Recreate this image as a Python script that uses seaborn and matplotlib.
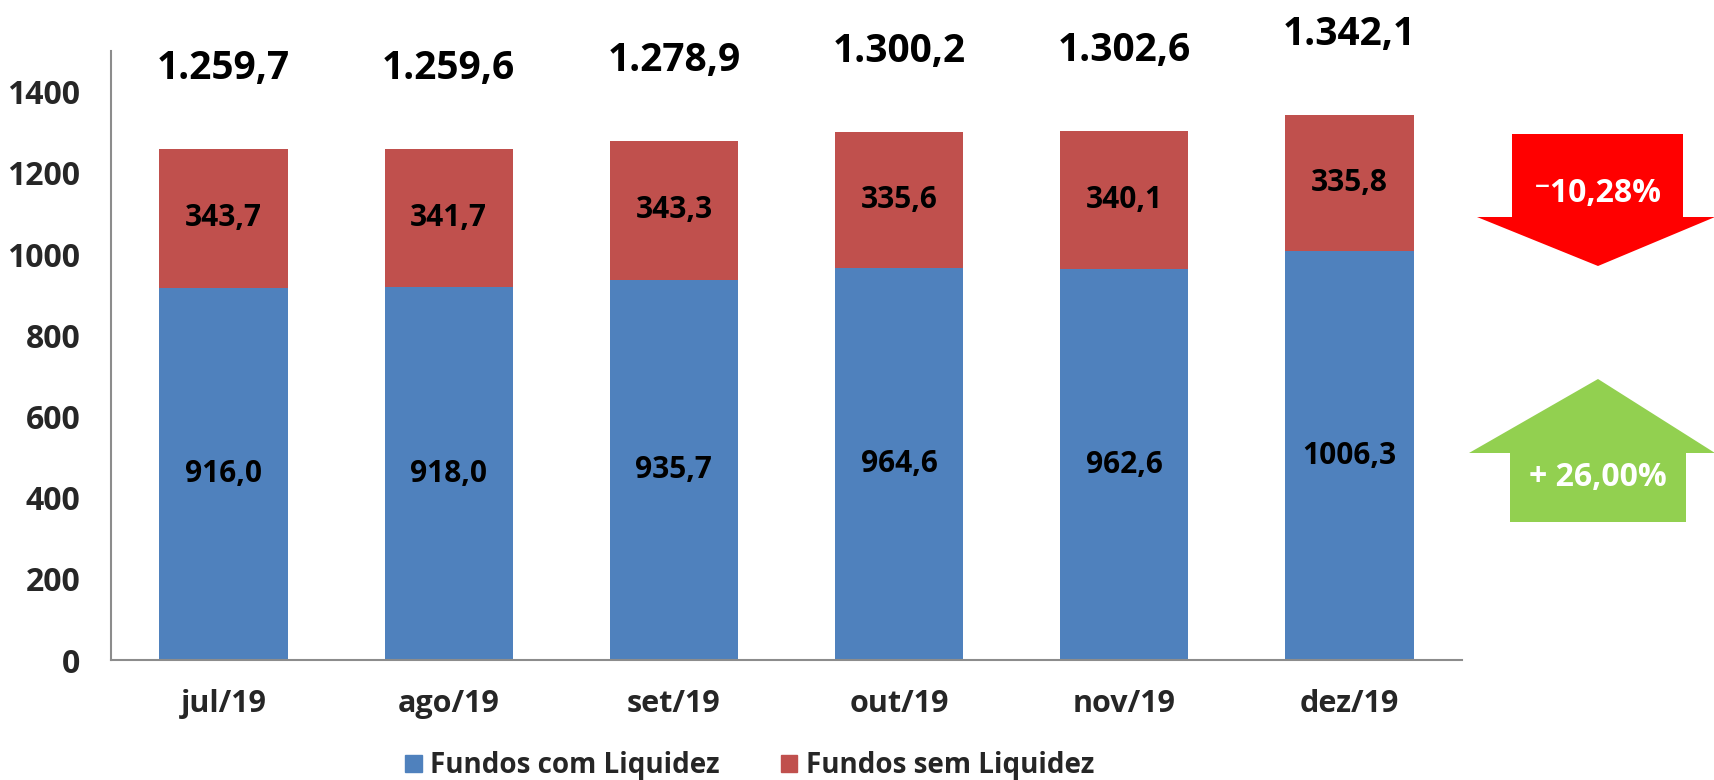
import matplotlib
matplotlib.use("Agg")
import matplotlib.pyplot as plt
import matplotlib.patches as mpatches
import seaborn as sns
import pandas as pd

meses = ["jul/19", "ago/19", "set/19", "out/19", "nov/19", "dez/19"]
com_liquidez = [916.0, 918.0, 935.7, 964.6, 962.6, 1006.3]
sem_liquidez = [343.7, 341.7, 343.3, 335.6, 340.1, 335.8]
totais = ["1.259,7", "1.259,6", "1.278,9", "1.300,2", "1.302,6", "1.342,1"]
var_sem = "\u207b10,28%"
var_com = "+ 26,00%"

AZUL = "#4F81BD"
VERMELHO = "#C0504D"

sns.set_theme(style="white")
plt.rcParams["font.family"] = ["Open Sans", "DejaVu Sans"]
plt.rcParams["font.weight"] = "bold"

df = pd.DataFrame({"mes": meses, "com": com_liquidez, "sem": sem_liquidez})
df["total"] = df["com"] + df["sem"]

fig = plt.figure(figsize=(17.15, 7.8), dpi=100)
ax = fig.add_axes([0.0647, 0.1538, 0.7878, 0.7808])

# stacked: total (red) behind, blue in front
sns.barplot(data=df, x="mes", y="total", color=VERMELHO, width=0.57,
            saturation=1, linewidth=0, ax=ax)
sns.barplot(data=df, x="mes", y="com", color=AZUL, width=0.57,
            saturation=1, linewidth=0, ax=ax)

ax.set_ylim(0, 1500)
ax.set_yticks(range(0, 1401, 200))
ax.set_xlim(-0.5, len(meses) - 0.5)
ax.set_xlabel("")
ax.set_ylabel("")
ax.tick_params(axis="y", length=0, pad=22, labelsize=23)
ax.tick_params(axis="x", length=0, pad=21, labelsize=22)
for lbl in ax.get_xticklabels() + ax.get_yticklabels():
    lbl.set_fontweight("bold")
for s in ["top", "right"]:
    ax.spines[s].set_visible(False)
for s in ["left", "bottom"]:
    ax.spines[s].set_color("#8c8c8c")
    ax.spines[s].set_linewidth(1.5)

def fmt(v):
    return f"{v:.1f}".replace(".", ",")

for i, row in df.iterrows():
    ax.text(i, row["com"] / 2, fmt(row["com"]), ha="center", va="center",
            fontsize=21.5, fontweight="bold", color="black")
    ax.text(i, row["com"] + row["sem"] / 2, fmt(row["sem"]), ha="center",
            va="center", fontsize=21.5, fontweight="bold", color="black")
    ax.text(i, row["total"] + 198, totais[i], ha="center",
            va="center", fontsize=28, fontweight="bold", color="black",
            clip_on=False)

# arrows on the right (figure pixel coords -> fraction)
W, H = 1715, 780
def fp(pts):
    return [(x / W, 1 - y / H) for x, y in pts]

seta_baixo = fp([(1512, 134), (1683, 134), (1683, 217), (1715, 217),
                 (1598, 266), (1477, 217), (1512, 217)])
seta_cima = fp([(1598, 379), (1715, 453), (1686, 453), (1686, 522),
                (1510, 522), (1510, 453), (1469, 453)])
fig.patches.append(mpatches.Polygon(seta_baixo, closed=True, facecolor="#FF0000",
                                    edgecolor="none", transform=fig.transFigure))
fig.patches.append(mpatches.Polygon(seta_cima, closed=True, facecolor="#92D050",
                                    edgecolor="none", transform=fig.transFigure))
fig.text(1598 / W, 1 - 193 / H, var_sem, ha="center", va="center",
         fontsize=23, fontweight="bold", color="white")
fig.text(1598 / W, 1 - 477 / H, var_com, ha="center", va="center",
         fontsize=23, fontweight="bold", color="white")

handles = [mpatches.Patch(color=AZUL, label="Fundos com Liquidez"),
           mpatches.Patch(color=VERMELHO, label="Fundos sem Liquidez")]
fig.legend(handles=handles, loc="center", bbox_to_anchor=(0.437, 0.018),
           ncol=2, frameon=False, prop={"size": 20, "weight": "bold"},
           handlelength=0.6, handleheight=0.6, handletextpad=0.3,
           columnspacing=2.2)

fig.savefig("out.png", dpi=100)
